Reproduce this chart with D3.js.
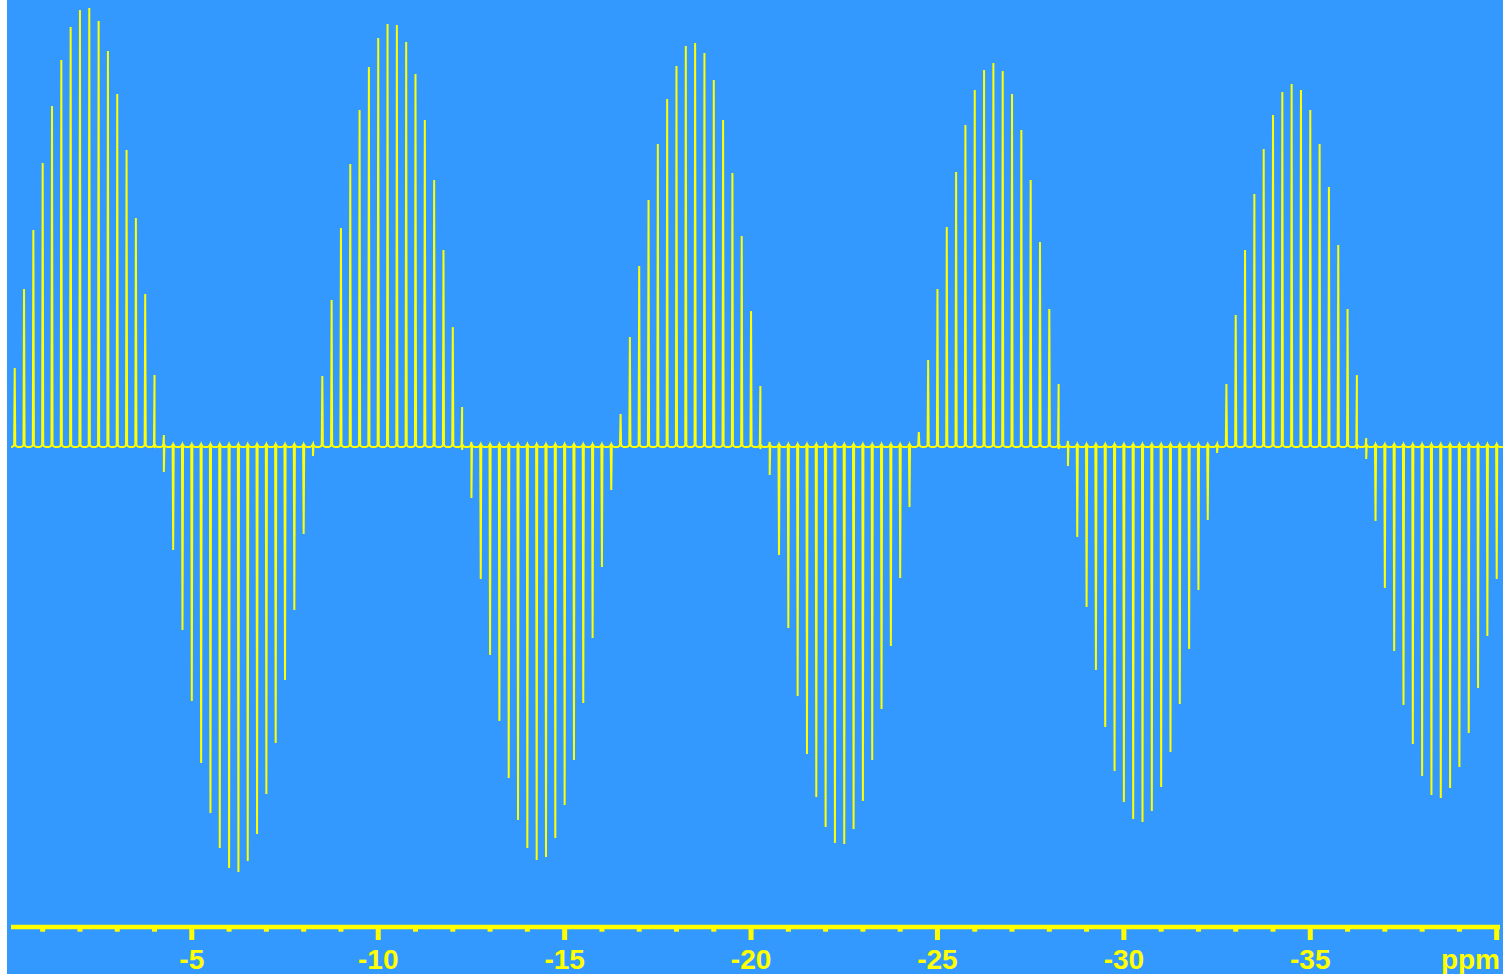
<!DOCTYPE html>
<html lang="en">
<head>
    <meta charset="UTF-8">
    <title>Spectrum</title>
    <script src="https://d3js.org/d3.v7.min.js"></script>
    <style>
        html, body {
            margin: 0;
            padding: 0;
            background: #ffffff;
            overflow: hidden;
        }
        svg { display: block; }
        .axis-label {
            font-family: "Liberation Sans", Arial, sans-serif;
            font-weight: bold;
            font-size: 28px;
            fill: #ffff00;
        }
    </style>
</head>
<body>
<div id="chart"></div>

<script>
    // chemical shift of each line (ppm)
    const shifts = [
        -0.25, -0.5, -0.75, -1, -1.25, -1.5, -1.75, -2, -2.25, -2.5, -2.75, -3, -3.25, -3.5, -3.75, -4,
        -4.25, -4.5, -4.75, -5, -5.25, -5.5, -5.75, -6, -6.25, -6.5, -6.75, -7, -7.25, -7.5, -7.75, -8,
        -8.25, -8.5, -8.75, -9, -9.25, -9.5, -9.75, -10, -10.25, -10.5, -10.75, -11, -11.25, -11.5, -11.75, -12,
        -12.25, -12.5, -12.75, -13, -13.25, -13.5, -13.75, -14, -14.25, -14.5, -14.75, -15, -15.25, -15.5, -15.75, -16,
        -16.25, -16.5, -16.75, -17, -17.25, -17.5, -17.75, -18, -18.25, -18.5, -18.75, -19, -19.25, -19.5, -19.75, -20,
        -20.25, -20.5, -20.75, -21, -21.25, -21.5, -21.75, -22, -22.25, -22.5, -22.75, -23, -23.25, -23.5, -23.75, -24,
        -24.25, -24.5, -24.75, -25, -25.25, -25.5, -25.75, -26, -26.25, -26.5, -26.75, -27, -27.25, -27.5, -27.75, -28,
        -28.25, -28.5, -28.75, -29, -29.25, -29.5, -29.75, -30, -30.25, -30.5, -30.75, -31, -31.25, -31.5, -31.75, -32,
        -32.25, -32.5, -32.75, -33, -33.25, -33.5, -33.75, -34, -34.25, -34.5, -34.75, -35, -35.25, -35.5, -35.75, -36,
        -36.25, -36.5, -36.75, -37, -37.25, -37.5, -37.75, -38, -38.25, -38.5, -38.75, -39, -39.25, -39.5, -39.75, -40
    ];

    // line intensities (arbitrary units, signed)
    const intensities = [
        79, 158, 217, 284, 341, 387, 420, 437, 439, 426, 396, 353, 297, 229, 153, 72,
        -25, -103, -183, -254, -316, -366, -401, -421, -425, -414, -387, -347, -296, -233, -163, -87,
        -9, 71, 147, 219, 283, 337, 380, 409, 423, 422, 405, 373, 327, 267, 197, 120,
        40, -51, -132, -208, -274, -331, -373, -401, -413, -410, -391, -358, -313, -256, -191, -120,
        -43, 33, 110, 181, 247, 303, 348, 381, 401, 404, 394, 367, 327, 274, 211, 136,
        61, -28, -108, -181, -249, -307, -350, -380, -396, -397, -382, -354, -313, -262, -199, -131,
        -60, 15, 87, 158, 220, 275, 322, 357, 377, 384, 376, 353, 317, 267, 205, 138,
        63, -19, -90, -160, -223, -280, -324, -355, -372, -375, -364, -340, -305, -257, -202, -143,
        -73, -6, 63, 132, 197, 253, 298, 332, 355, 363, 357, 337, 303, 260, 202, 138,
        72, -12, -74, -141, -204, -258, -297, -329, -348, -351, -341, -320, -286, -241, -189, -132
    ];

    // lines near the sign change also reach a little past the baseline
    const crossShifts = [-4, -4.25, -8.25, -12.25, -12.5, -20.25, -20.5, -28.25, -28.5, -32.5, -36.25, -36.5];
    const crossValues = [-1, 12, 3, -3, 5, -2, 5, -2, 6, 3, -2, 9];

    const majorTicks = [-5, -10, -15, -20, -25, -30, -35, -40];
    const minorTicks = [-1, -2, -3, -4, -6, -7, -8, -9, -11, -12, -13, -14, -16, -17, -18, -19,
        -21, -22, -23, -24, -26, -27, -28, -29, -31, -32, -33, -34, -36, -37, -38, -39];

    const width = 1503, height = 974;
    const bg = "#3399ff", fg = "#ffff00";

    const x = d3.scaleLinear().domain([0, -40]).range([5.4, 1496.7]);
    const y = d3.scaleLinear().domain([-480, 447]).range([927, 0]);

    const svg = d3.select("#chart").append("svg")
        .attr("width", width)
        .attr("height", height);

    svg.append("rect")
        .attr("x", 7).attr("y", 0)
        .attr("width", width - 7).attr("height", height)
        .attr("fill", bg);

    const crossMap = new Map(crossShifts.map((s, i) => [s, crossValues[i]]));

    // foot of each line: small rounded base either side of the spike
    const footOffsets = [3.4, 2.1, 1.2, 0.55];
    const footValues = [0, 0.4, 1.0, 2.1];

    const pts = [{px: 11, v: 0}];
    shifts.forEach((s, i) => {
        const cx = x(s);
        const h = intensities[i];
        footOffsets.forEach((o, j) => pts.push({px: cx - o, v: footValues[j]}));
        if (crossMap.has(s)) {
            const c = crossMap.get(s);
            if (h < 0) { pts.push({px: cx, v: c}); pts.push({px: cx, v: h}); }
            else { pts.push({px: cx, v: h}); pts.push({px: cx, v: c}); }
        } else {
            pts.push({px: cx, v: h});
        }
        footOffsets.slice().reverse().forEach((o, j) =>
            pts.push({px: cx + o, v: footValues[footValues.length - 1 - j]}));
    });
    pts.push({px: width, v: 0});

    const line = d3.line()
        .x(d => d.px)
        .y(d => y(d.v));

    svg.append("path")
        .datum(pts)
        .attr("d", line)
        .attr("fill", "none")
        .attr("stroke", fg)
        .attr("stroke-width", 2)
        .attr("stroke-linejoin", "miter");

    // axis
    const axisY = 927;
    const axisG = svg.append("g").attr("transform", `translate(0,${axisY})`);

    axisG.append("line")
        .attr("x1", 11).attr("x2", 1500)
        .attr("y1", 0).attr("y2", 0)
        .attr("stroke", fg)
        .attr("stroke-width", 4.4);

    axisG.selectAll(".minor")
        .data(minorTicks)
        .join("line")
        .attr("class", "minor")
        .attr("x1", d => x(d)).attr("x2", d => x(d))
        .attr("y1", 0).attr("y2", 4.7)
        .attr("stroke", fg)
        .attr("stroke-width", 5);

    axisG.selectAll(".major")
        .data(majorTicks)
        .join("line")
        .attr("class", "major")
        .attr("x1", d => x(d)).attr("x2", d => x(d))
        .attr("y1", 0).attr("y2", 13)
        .attr("stroke", fg)
        .attr("stroke-width", 5);

    axisG.selectAll(".tick-label")
        .data(majorTicks.filter(d => d !== -40))
        .join("text")
        .attr("class", "axis-label")
        .attr("x", d => x(d))
        .attr("y", 42)
        .attr("text-anchor", "middle")
        .text(d => d);

    axisG.append("text")
        .attr("class", "axis-label")
        .attr("x", 1500)
        .attr("y", 42)
        .attr("text-anchor", "end")
        .text("ppm");
</script>
</body>
</html>
